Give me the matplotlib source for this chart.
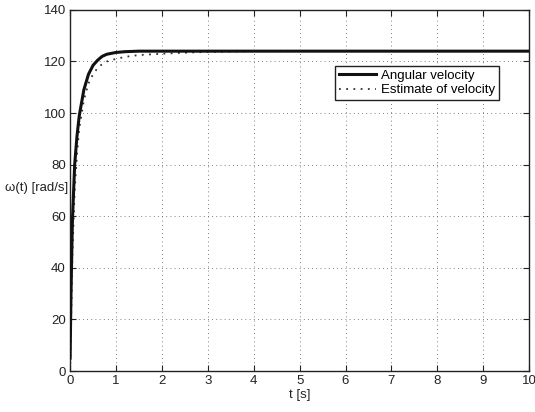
import matplotlib
matplotlib.use("Agg")
import matplotlib.pyplot as plt

## Data
t_true = [0, 0.02, 0.05, 0.1, 0.15, 0.2, 0.3, 0.4, 0.5, 0.6, 0.7, 0.8, 1.0, 1.2, 1.5, 2, 3, 10]
w_true = [5, 30, 58, 80, 91, 99, 109, 115, 118.5, 120.5, 122, 122.8, 123.5, 123.8, 124, 124, 124, 124]

t_est = [0, 0.05, 0.1, 0.15, 0.2, 0.3, 0.4, 0.5, 0.6, 0.7, 0.8, 1.0, 1.2, 1.5, 2, 2.5, 3, 4, 10]
w_est = [0, 45, 70, 84, 94, 105, 111.5, 115, 117.5, 119, 120, 121, 121.8, 122.5, 123, 123.4, 123.7, 124, 124]

x_ticks = list(range(0, 11))
y_ticks = list(range(0, 141, 20))

plt.rcParams['font.family'] = ['Liberation Sans', 'DejaVu Sans']
plt.rcParams['font.size'] = 9.5

fig = plt.figure(figsize=(5.35, 4.12), dpi=100)
ax = fig.add_axes([0.131, 0.0995, 0.858, 0.8765])

ax.plot(t_true, w_true, color='#111111', lw=2.2, label='Angular velocity', zorder=3)
ax.plot(t_est, w_est, color='#333333', lw=1.3, ls=(0, (1, 3)), label='Estimate of velocity', zorder=2)

ax.set_xlim(0, 10)
ax.set_ylim(0, 140)
ax.set_xticks(x_ticks)
ax.set_yticks(y_ticks)
ax.tick_params(direction='in', top=True, right=True, length=4, width=0.8, pad=3, colors='#222222')
ax.grid(True, ls=(0, (1, 4)), color='#555555', lw=0.6)
for s in ax.spines.values():
    s.set_linewidth(1.0)
    s.set_color('#222222')

ax.set_xlabel('t [s]', labelpad=1, color='#222222')
ax.set_ylabel('ω(t) [rad/s]', rotation=0, ha='right', va='center', color='#222222')
ax.yaxis.set_label_coords(-0.003, 0.507)

leg = ax.legend(loc='upper right', bbox_to_anchor=(0.935, 0.845), fancybox=False,
                edgecolor='#222222', framealpha=1, handlelength=2.8, borderpad=0.3,
                labelspacing=0.15, handletextpad=0.4, borderaxespad=0)
leg.get_frame().set_linewidth(1.0)

fig.savefig('out.png', dpi=100)
